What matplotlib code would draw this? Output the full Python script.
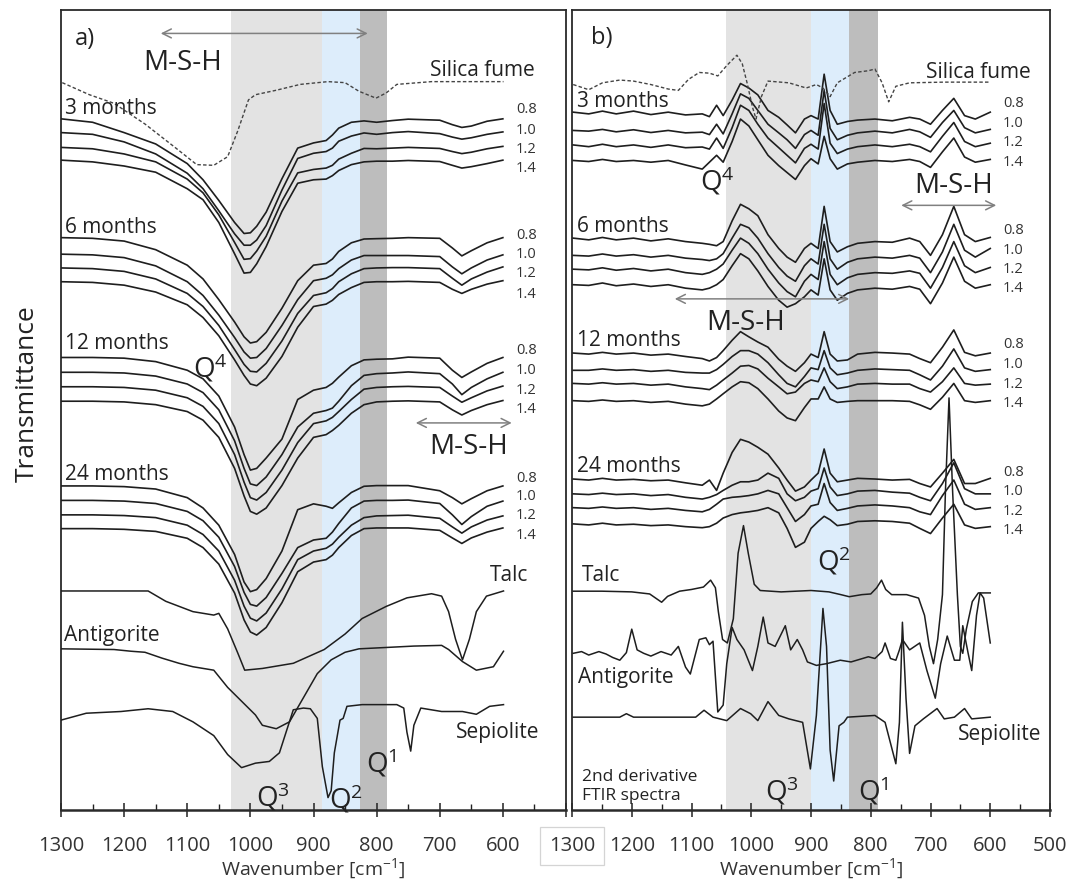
import matplotlib
matplotlib.use('Agg')
import matplotlib.pyplot as plt

plt.rcParams['font.family'] = ['Open Sans', 'DejaVu Sans']
plt.rcParams['mathtext.fontset'] = 'custom'
plt.rcParams['mathtext.rm'] = 'Open Sans'
plt.rcParams['mathtext.default'] = 'regular'

# ---------------- data (wavenumber in cm-1, offset transmittance in a.u., larger = lower on plot)
ratios = ['0.8', '1.0', '1.2', '1.4']
ages = ['3 months', '6 months', '12 months', '24 months']

# panel a) FTIR spectra
wn_a = [1300, 1250, 1200, 1150, 1100, 1075, 1050, 1025, 1010, 1000, 990, 975, 950, 925, 900,
        880, 870, 860, 840, 820, 800, 775, 750, 700, 680, 665, 650, 625, 600]
a_3m = [[345, 355, 385, 418, 475, 522, 582, 646, 678, 676, 657, 616, 519, 430, 415, 408, 392, 372, 355, 351, 355, 350, 346, 349, 362, 370, 366, 352, 345],
        [385, 390, 412, 447, 503, 548, 612, 679, 712, 712, 697, 655, 552, 460, 445, 440, 430, 410, 395, 386, 390, 385, 382, 388, 398, 404, 400, 390, 383],
        [428, 432, 447, 470, 520, 560, 624, 704, 753, 751, 729, 686, 584, 502, 492, 488, 480, 462, 445, 431, 432, 430, 428, 431, 440, 446, 442, 432, 425],
        [465, 470, 482, 500, 548, 580, 646, 737, 793, 791, 766, 716, 614, 532, 522, 520, 510, 495, 478, 470, 468, 468, 466, 469, 480, 488, 484, 475, 465]]
a_6m = [[690, 692, 700, 725, 770, 810, 870, 935, 978, 996, 992, 965, 895, 815, 770, 765, 752, 730, 705, 694, 693, 692, 690, 692, 720, 743, 728, 705, 690],
        [738, 740, 748, 772, 818, 858, 915, 980, 1022, 1040, 1038, 1012, 945, 870, 815, 808, 798, 780, 755, 742, 742, 742, 742, 745, 775, 795, 778, 755, 740],
        [778, 780, 788, 810, 852, 890, 945, 1015, 1058, 1078, 1080, 1055, 990, 910, 858, 850, 838, 818, 795, 780, 778, 777, 777, 780, 808, 828, 810, 790, 775],
        [818, 820, 828, 848, 885, 922, 975, 1045, 1090, 1115, 1120, 1098, 1035, 950, 890, 883, 872, 855, 835, 820, 818, 818, 817, 820, 840, 852, 840, 825, 815]]
a_12m = [[1038, 1038, 1040, 1050, 1075, 1100, 1150, 1240, 1320, 1365, 1360, 1330, 1275, 1160, 1133, 1125, 1113, 1095, 1062, 1045, 1043, 1042, 1037, 1040, 1075, 1096, 1080, 1055, 1038],
         [1081, 1081, 1083, 1092, 1115, 1140, 1190, 1280, 1360, 1405, 1410, 1385, 1320, 1240, 1200, 1192, 1185, 1165, 1120, 1090, 1085, 1083, 1080, 1085, 1115, 1146, 1125, 1100, 1081],
         [1123, 1123, 1125, 1133, 1155, 1180, 1230, 1320, 1400, 1445, 1452, 1430, 1365, 1285, 1230, 1222, 1212, 1195, 1160, 1130, 1125, 1123, 1122, 1125, 1150, 1168, 1155, 1135, 1121],
         [1165, 1165, 1167, 1175, 1195, 1220, 1270, 1360, 1440, 1485, 1493, 1475, 1410, 1330, 1270, 1262, 1250, 1235, 1200, 1175, 1167, 1165, 1164, 1167, 1190, 1205, 1192, 1175, 1163]]
a_24m = [[1411, 1411, 1413, 1420, 1445, 1475, 1525, 1610, 1690, 1718, 1712, 1680, 1600, 1480, 1463, 1470, 1476, 1460, 1430, 1412, 1410, 1410, 1410, 1425, 1445, 1463, 1448, 1425, 1411],
         [1453, 1453, 1455, 1462, 1485, 1512, 1560, 1645, 1720, 1755, 1760, 1735, 1665, 1590, 1568, 1563, 1545, 1520, 1475, 1455, 1453, 1453, 1452, 1462, 1495, 1523, 1500, 1470, 1455],
         [1495, 1495, 1497, 1503, 1525, 1552, 1600, 1685, 1760, 1795, 1803, 1780, 1710, 1625, 1600, 1592, 1580, 1560, 1525, 1503, 1498, 1497, 1496, 1505, 1530, 1548, 1530, 1510, 1498],
         [1535, 1535, 1537, 1543, 1563, 1590, 1638, 1722, 1800, 1835, 1844, 1822, 1750, 1660, 1632, 1625, 1612, 1590, 1555, 1535, 1533, 1533, 1533, 1540, 1562, 1578, 1562, 1545, 1533]]
silica_a_wn = [1298, 1255, 1216, 1167, 1118, 1085, 1058, 1036, 1020, 1003, 992, 959, 921, 877, 850, 828, 801, 785, 768, 713, 599]
silica_a = [240, 275, 300, 360, 430, 478, 480, 455, 380, 290, 275, 262, 245, 237, 240, 265, 285, 270, 245, 237, 237]
talc_a_wn = [1300, 1162, 1134, 1091, 1058, 1050, 1036, 1020, 1009, 981, 932, 883, 850, 823, 785, 752, 713, 697, 686, 675, 664, 653, 642, 626, 599]
talc_a = [1716, 1716, 1746, 1776, 1786, 1781, 1826, 1896, 1946, 1941, 1926, 1886, 1841, 1796, 1761, 1736, 1724, 1731, 1776, 1856, 1916, 1856, 1776, 1731, 1716]
antig_a_wn = [1300, 1216, 1189, 1167, 1140, 1113, 1091, 1058, 1036, 1014, 992, 981, 959, 938, 916, 894, 872, 850, 828, 795, 741, 697, 686, 664, 642, 615, 599]
antig_a = [1884, 1886, 1891, 1894, 1911, 1926, 1936, 1946, 1996, 2036, 2076, 2106, 2116, 2096, 2026, 1956, 1916, 1894, 1884, 1881, 1876, 1874, 1886, 1921, 1946, 1936, 1891]
sepio_a_wn = [1300, 1260, 1205, 1162, 1123, 1091, 1058, 1036, 1014, 992, 970, 954, 932, 916, 905, 894, 886, 877, 872, 867, 858, 853, 847,
              823, 768, 757, 752, 746, 741, 730, 697, 664, 642, 621, 599]
sepio_a = [2091, 2071, 2066, 2058, 2066, 2096, 2136, 2191, 2229, 2216, 2211, 2186, 2061, 2056, 2058, 2086, 2226, 2316, 2296, 2186, 2091, 2086, 2051,
           2046, 2046, 2056, 2126, 2181, 2106, 2056, 2066, 2066, 2074, 2051, 2046]

# panel b) 2nd derivative spectra
wn_b = [1298, 1272, 1249, 1226, 1197, 1168, 1139, 1110, 1082, 1070, 1058, 1047, 1032, 1018, 1004, 989, 972, 954, 940, 926,
        911, 900, 888, 878, 868, 856, 839, 822, 793, 764, 735, 718, 700, 680, 661, 643, 625, 600]
b_3m = [[325, 330, 322, 330, 322, 332, 325, 333, 330, 338, 305, 335, 290, 242, 255, 275, 320, 340, 362, 385, 345, 335, 345, 215, 320, 360, 352, 348, 345, 350, 340, 345, 360, 320, 285, 335, 345, 325],
        [378, 380, 375, 382, 376, 384, 378, 385, 383, 390, 360, 388, 330, 272, 285, 320, 360, 385, 405, 430, 390, 378, 392, 262, 372, 405, 392, 385, 380, 385, 375, 382, 398, 355, 320, 370, 385, 375],
        [420, 425, 418, 425, 420, 427, 420, 428, 426, 432, 400, 430, 370, 305, 320, 360, 400, 428, 450, 472, 430, 418, 432, 300, 415, 445, 432, 425, 420, 425, 418, 425, 440, 395, 355, 410, 425, 415],
        [465, 468, 462, 468, 465, 470, 465, 478, 490, 470, 450, 470, 410, 345, 365, 405, 450, 480, 500, 520, 480, 460, 475, 395, 460, 490, 475, 470, 465, 468, 462, 468, 485, 440, 400, 455, 470, 462]]
b_6m = [[690, 695, 688, 695, 690, 698, 692, 700, 705, 708, 712, 700, 640, 592, 605, 625, 680, 720, 745, 760, 720, 705, 720, 598, 700, 730, 715, 705, 700, 702, 690, 700, 740, 680, 598, 680, 700, 688],
        [740, 742, 736, 742, 738, 745, 740, 748, 752, 755, 750, 735, 690, 650, 660, 690, 735, 775, 800, 815, 770, 750, 765, 650, 750, 780, 760, 750, 745, 748, 740, 748, 790, 730, 650, 725, 745, 720],
        [780, 782, 776, 783, 778, 785, 780, 790, 795, 790, 780, 765, 725, 690, 705, 735, 780, 820, 845, 860, 815, 795, 810, 700, 795, 825, 805, 795, 790, 792, 785, 792, 835, 775, 700, 770, 790, 775],
        [825, 827, 820, 828, 823, 830, 825, 835, 840, 835, 825, 810, 770, 735, 750, 785, 830, 870, 890, 880, 860, 840, 855, 750, 840, 870, 850, 840, 835, 838, 830, 838, 880, 820, 745, 815, 835, 825]]
b_12m = [[1023, 1026, 1021, 1026, 1023, 1029, 1026, 1033, 1039, 1046, 1036, 1016, 986, 961, 976, 991, 1006, 1041, 1061, 1076, 1051, 1026, 1036, 961, 1026, 1046, 1043, 1026, 1021, 1023, 1026, 1039, 1051, 1006, 956, 1021, 1031, 1023],
         [1073, 1073, 1069, 1073, 1071, 1076, 1073, 1079, 1081, 1081, 1071, 1056, 1033, 1016, 1016, 1026, 1051, 1086, 1111, 1121, 1091, 1066, 1071, 1016, 1066, 1086, 1081, 1073, 1069, 1071, 1073, 1086, 1101, 1061, 1011, 1066, 1076, 1071],
         [1111, 1113, 1109, 1113, 1111, 1116, 1113, 1121, 1126, 1129, 1116, 1101, 1081, 1061, 1059, 1069, 1096, 1121, 1141, 1136, 1111, 1101, 1106, 1066, 1106, 1126, 1121, 1113, 1111, 1113, 1113, 1126, 1136, 1106, 1066, 1111, 1116, 1113],
         [1161, 1163, 1159, 1163, 1161, 1166, 1163, 1171, 1176, 1171, 1156, 1141, 1121, 1106, 1109, 1126, 1156, 1191, 1211, 1219, 1181, 1156, 1156, 1121, 1156, 1166, 1163, 1161, 1161, 1161, 1163, 1173, 1186, 1151, 1111, 1161, 1166, 1161]]
b_24m = [[1388, 1391, 1386, 1391, 1389, 1393, 1391, 1399, 1406, 1391, 1421, 1371, 1311, 1273, 1281, 1296, 1316, 1356, 1391, 1423, 1411, 1391, 1371, 1301, 1371, 1396, 1391, 1386, 1388, 1391, 1389, 1401, 1411, 1371, 1331, 1401, 1401, 1386],
         [1431, 1433, 1429, 1433, 1431, 1436, 1433, 1441, 1446, 1441, 1433, 1421, 1406, 1396, 1396, 1391, 1371, 1386, 1431, 1451, 1441, 1423, 1416, 1356, 1411, 1436, 1431, 1423, 1421, 1426, 1429, 1441, 1451, 1401, 1341, 1416, 1431, 1431],
         [1471, 1473, 1469, 1473, 1471, 1476, 1473, 1479, 1483, 1476, 1461, 1446, 1441, 1439, 1436, 1431, 1421, 1431, 1471, 1511, 1491, 1466, 1461, 1401, 1456, 1479, 1473, 1466, 1463, 1466, 1471, 1483, 1491, 1436, 1391, 1461, 1476, 1471],
         [1518, 1521, 1516, 1521, 1519, 1523, 1521, 1526, 1529, 1526, 1516, 1501, 1491, 1486, 1483, 1479, 1471, 1486, 1531, 1586, 1571, 1531, 1511, 1496, 1506, 1523, 1519, 1511, 1509, 1511, 1516, 1531, 1546, 1501, 1461, 1521, 1531, 1526]]
silica_b_wn = [1298, 1272, 1249, 1220, 1197, 1168, 1139, 1122, 1105, 1087, 1070, 1056, 1041, 1024, 1015, 1007, 998, 992, 983, 972,
               937, 908, 891, 880, 868, 856, 827, 804, 793, 781, 770, 758, 735, 677, 600]
silica_b = [245, 260, 240, 232, 235, 245, 258, 262, 230, 210, 212, 220, 190, 160, 185, 240, 310, 345, 280, 235,
            240, 255, 245, 255, 280, 240, 210, 205, 200, 240, 295, 250, 240, 238, 238]
talc_b_wn = [1298, 1250, 1200, 1170, 1160, 1150, 1140, 1120, 1100, 1080, 1068, 1060, 1055, 1048, 1040, 1030, 1022, 1013, 1005, 995,
             985, 950, 900, 870, 850, 836, 815, 800, 790, 782, 775, 765, 740, 720, 710, 702, 695, 688, 680, 675,
             669, 663, 655, 650, 646, 640, 630, 620, 600]
talc_b = [1713, 1713, 1715, 1721, 1733, 1745, 1728, 1713, 1708, 1701, 1681, 1703, 1773, 1853, 1863, 1793, 1603, 1523, 1603, 1693,
          1711, 1715, 1711, 1715, 1723, 1729, 1723, 1721, 1703, 1681, 1708, 1723, 1723, 1733, 1783, 1873, 1923, 1853, 1723, 1423,
          1153, 1423, 1723, 1873, 1893, 1823, 1743, 1718, 1718]
antig_b_wn = [1298, 1284, 1272, 1255, 1243, 1232, 1220, 1209, 1200, 1191, 1180, 1168, 1151, 1134, 1122, 1110, 1102, 1087, 1076, 1070,
              1064, 1056, 1047, 1041, 1032, 1024, 1012, 998, 989, 980, 972, 960, 943, 934, 923, 914, 906, 891, 874, 851,
              833, 804, 793, 781, 776, 767, 758, 752, 747, 735, 718, 706, 692, 683, 672, 660, 651, 646, 637, 631, 623, 617, 611, 600]
antig_b = [1893, 1888, 1898, 1888, 1895, 1905, 1913, 1891, 1823, 1883, 1893, 1901, 1888, 1898, 1873, 1933, 1953, 1853, 1848, 1868,
           1858, 2063, 2043, 1923, 1818, 1853, 1883, 1943, 1873, 1788, 1863, 1873, 1813, 1883, 1853, 1883, 1918, 1928, 1923, 1913,
           1918, 1903, 1908, 1888, 1863, 1908, 1913, 1883, 1853, 1883, 1863, 1943, 2023, 1923, 1843, 1913, 1913, 1813, 1893, 1943, 1783, 1718, 1733, 1863]
sepio_b_wn = [1298, 1220, 1209, 1197, 1139, 1093, 1079, 1064, 1041, 1018, 1001, 989, 972, 954, 937, 914, 901, 891, 880, 874,
              868, 862, 853, 845, 839, 793, 776, 758, 752, 747, 741, 735, 726, 712, 689, 677, 660, 643, 631, 600]
sepio_b = [2078, 2078, 2068, 2078, 2078, 2078, 2058, 2078, 2088, 2053, 2068, 2088, 2033, 2073, 2083, 2093, 2228, 2073, 1763, 1873,
           2173, 2263, 2103, 2093, 2078, 2073, 2093, 2213, 2093, 1803, 2023, 2183, 2103, 2083, 2053, 2083, 2078, 2053, 2083, 2078]

# Q band limits (cm-1)
bands_a = [(1030, 886), (886, 827), (827, 784)]
bands_b = [(1042, 900), (900, 836), (836, 788)]
band_cols = ['#e3e3e3', '#ddedfb', '#bdbdbd']

LC = '#1e1e1e'

fig = plt.figure(figsize=(10.71, 8.86), dpi=100)
ax1 = fig.add_axes([61/1071, 76/886, 505/1071, 800/886])
ax2 = fig.add_axes([572/1071, 76/886, 478/1071, 800/886])

for ax, bands, ybot in ((ax1, bands_a, 2352), (ax2, bands_b, 2347)):
    for (b0, b1), c in zip(bands, band_cols):
        ax.axvspan(b0, b1, color=c, lw=0, zorder=0)
    ax.set_xlim(1300, 500)
    ax.set_ylim(ybot, 29)
    ax.set_yticks([])
    ax.set_xticks(range(1300, 499, -100))
    ax.set_xticks(range(1250, 500, -100), minor=True)
    ax.tick_params(axis='x', which='major', direction='inout', length=10, width=1.1,
                   labelsize=14.5, pad=13.5, colors='#222', labelcolor='#333')
    ax.tick_params(axis='x', which='minor', direction='in', length=4, width=1.0, colors='#222')
    for s in ax.spines.values():
        s.set_linewidth(1.3)
        s.set_color('#2a2a2a')
    ax.spines['bottom'].set_linewidth(1.8)
    ax.set_xlabel('Wavenumber [cm$^{-1}$]', fontsize=14, color='#333', labelpad=1)

ax1.set_xticklabels([str(t) for t in range(1300, 599, -100)] + [''])
lab = ax2.get_xticklabels()[0]
lab.set_bbox(dict(boxstyle='square,pad=0.45', fc='white', ec='#d4d4d4', lw=0.9))

# panel a curves
for grp in (a_3m, a_6m, a_12m, a_24m):
    for c in grp:
        ax1.plot(wn_a, c, color=LC, lw=1.2, zorder=3)
ax1.plot(silica_a_wn, silica_a, color='#444', lw=1.0, ls=(0, (2.5, 1.6)), zorder=3)
ax1.plot(talc_a_wn, talc_a, color=LC, lw=1.1, zorder=3)
ax1.plot(antig_a_wn, antig_a, color=LC, lw=1.1, zorder=3)
ax1.plot(sepio_a_wn, sepio_a, color=LC, lw=1.1, zorder=3)

# panel b curves
for grp in (b_3m, b_6m, b_12m, b_24m):
    for c in grp:
        ax2.plot(wn_b, c, color=LC, lw=1.2, zorder=3)
ax2.plot(silica_b_wn, silica_b, color='#444', lw=1.0, ls=(0, (2.5, 1.6)), zorder=3)
ax2.plot(talc_b_wn, talc_b, color=LC, lw=1.1, zorder=3)
ax2.plot(antig_b_wn, antig_b, color=LC, lw=1.1, zorder=3)
ax2.plot(sepio_b_wn, sepio_b, color=LC, lw=1.1, zorder=3)

# ratio labels
lab_a = [[318, 378, 433, 490], [683, 740, 795, 855], [1018, 1075, 1133, 1188], [1388, 1443, 1498, 1555]]
lab_b = [[300, 358, 413, 472], [668, 725, 780, 835], [998, 1056, 1113, 1168], [1368, 1424, 1481, 1538]]
for ax, ly in ((ax1, lab_a), (ax2, lab_b)):
    for ys in ly:
        for r, y in zip(ratios, ys):
            ax.text(579, y, r, fontsize=10.5, color='#333', va='center', ha='left', zorder=5)

# age labels
for ax, ys, x in ((ax1, [315, 660, 998, 1378], 1294), (ax2, [295, 655, 986, 1351], 1292)):
    for a, y in zip(ages, ys):
        ax.text(x, y, a, fontsize=15, color='#222', va='center', ha='left', zorder=5)

arr = dict(arrowstyle='<->', color='#808080', lw=1.1, mutation_scale=16, shrinkA=0, shrinkB=0)

# panel a annotations
ax1.text(1262, 113, 'a)', fontsize=17, color='#222', va='center', ha='center')
ax1.annotate('', xy=(1142, 97), xytext=(814, 97), arrowprops=arr)
ax1.text(1107, 183, 'M-S-H', fontsize=20, color='#222', va='center', ha='center')
ax1.text(549, 205, 'Silica fume', fontsize=15, color='#222', va='center', ha='right')
ax1.text(1063, 1068, 'Q$^4$', fontsize=20, color='#222', va='center', ha='center')
ax1.annotate('', xy=(738, 1228), xytext=(586, 1228), arrowprops=arr)
ax1.text(655, 1298, 'M-S-H', fontsize=20, color='#222', va='center', ha='center')
ax1.text(590, 1671, 'Talc', fontsize=15, color='#222', va='center', ha='center')
ax1.text(1295, 1846, 'Antigorite', fontsize=15, color='#222', va='center', ha='left')
ax1.text(608, 2126, 'Sepiolite', fontsize=15, color='#222', va='center', ha='center')
ax1.text(965, 2316, 'Q$^3$', fontsize=20, color='#222', va='center', ha='center')
ax1.text(848, 2321, 'Q$^2$', fontsize=20, color='#222', va='center', ha='center')
ax1.text(793, 2216, 'Q$^1$', fontsize=20, color='#222', va='center', ha='center')

# panel b annotations
ax2.text(1250, 110, 'b)', fontsize=17, color='#222', va='center', ha='center')
ax2.text(533, 210, 'Silica fume', fontsize=15, color='#222', va='center', ha='right')
ax2.text(1056, 525, 'Q$^4$', fontsize=20, color='#222', va='center', ha='center')
ax2.text(662, 540, 'M-S-H', fontsize=20, color='#222', va='center', ha='center')
ax2.annotate('', xy=(749, 595), xytext=(590, 595), arrowprops=arr)
ax2.annotate('', xy=(1128, 866), xytext=(836, 866), arrowprops=arr)
ax2.text(1009, 936, 'M-S-H', fontsize=20, color='#222', va='center', ha='center')
ax2.text(862, 1626, 'Q$^2$', fontsize=20, color='#222', va='center', ha='center')
ax2.text(1283, 1668, 'Talc', fontsize=15, color='#222', va='center', ha='left')
ax2.text(1290, 1963, 'Antigorite', fontsize=15, color='#222', va='center', ha='left')
ax2.text(585, 2128, 'Sepiolite', fontsize=15, color='#222', va='center', ha='center')
ax2.text(1283, 2280, '2nd derivative\nFTIR spectra', fontsize=12.5, color='#222', va='center', ha='left',
         linespacing=1.25)
ax2.text(948, 2293, 'Q$^3$', fontsize=20, color='#222', va='center', ha='center')
ax2.text(796, 2293, 'Q$^1$', fontsize=20, color='#222', va='center', ha='center')

fig.text(27/1071, 1 - 394/886, 'Transmittance', rotation=90, fontsize=19, color='#222',
         va='center', ha='center')

fig.savefig('out.png', dpi=100)
